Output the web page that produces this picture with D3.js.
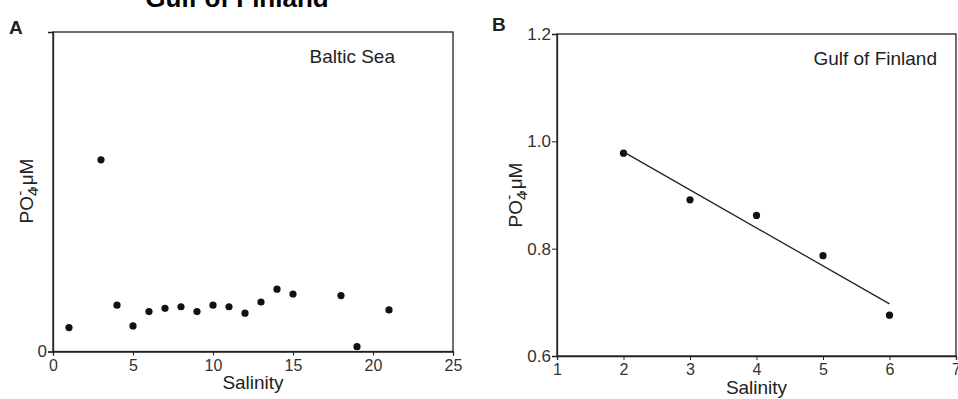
<!DOCTYPE html>
<html>
<head>
<meta charset="utf-8">
<script src="https://cdn.jsdelivr.net/npm/d3@7"></script>
<style>
  body { margin: 0; background: #fff; }
  svg { display: block; font-family: "Liberation Sans", Arial, sans-serif; }
  .axis path, .axis line { stroke: #222; }
  .axis text { fill: #333; }
</style>
</head>
<body>
<svg id="chart" width="958" height="399"></svg>
<script>
// panel A: Baltic Sea
const salinityA = [1, 3, 4, 5, 6, 7, 8, 9, 10, 11, 12, 13, 14, 15, 18, 19, 21];
const po4A = [0.15, 1.20, 0.29, 0.16, 0.25, 0.27, 0.28, 0.25, 0.29, 0.28, 0.24, 0.31, 0.39, 0.36, 0.35, 0.03, 0.26];
const xTicksA = [0, 5, 10, 15, 20, 25];
const yTicksA = [0];

// panel B: Gulf of Finland
const salinityB = [2, 3, 4, 5, 6];
const po4B = [0.978, 0.891, 0.862, 0.787, 0.676];
const xTicksB = [1, 2, 3, 4, 5, 6, 7];
const yTicksB = [0.6, 0.8, 1.0, 1.2];

const svg = d3.select('#chart');

// title, mostly cut off at the top
svg.append('text')
  .attr('x', 237).attr('y', 7)
  .attr('text-anchor', 'middle')
  .style('font-size', '26px').style('font-weight', 'bold')
  .text('Gulf of Finland');

function yLabel(x, y) {
  const t = svg.append('text')
    .attr('transform', 'translate(' + x + ',' + y + ') rotate(-90)')
    .attr('text-anchor', 'middle')
    .style('font-size', '19px')
    .attr('fill', '#222');
  t.append('tspan').text('PO');
  t.append('tspan').attr('dy', 5).style('font-size', '15px').text('4');
  t.append('tspan').attr('dx', -8).attr('dy', -13).style('font-size', '15px').text('-');
  t.append('tspan').attr('dy', 8).text(',μM');
}

function panel(opts) {
  const m = opts.box;
  const g = svg.append('g');
  const x = d3.scaleLinear().domain(opts.xDomain).range([m.left, m.right]);
  const y = d3.scaleLinear().domain(opts.yDomain).range([m.bottom, m.top]);

  // frame
  g.append('rect')
    .attr('x', m.left).attr('y', m.top)
    .attr('width', m.right - m.left).attr('height', m.bottom - m.top)
    .attr('fill', 'none').attr('stroke', '#222').attr('stroke-width', 1.3);

  g.append('g')
    .attr('class', 'axis')
    .attr('transform', 'translate(0,' + m.bottom + ')')
    .call(d3.axisBottom(x).tickValues(opts.xTicks).tickSize(4).tickPadding(4).tickFormat(d3.format('d')))
    .call(s => s.select('.domain').attr('stroke-width', 1.3))
    .call(s => s.selectAll('text').style('font-size', '16px').attr('font-family', null));

  g.append('g')
    .attr('class', 'axis')
    .attr('transform', 'translate(' + m.left + ',0)')
    .call(d3.axisLeft(y).tickValues(opts.yTicks).tickSize(5).tickPadding(1).tickFormat(opts.yFormat))
    .call(s => s.select('.domain').attr('stroke-width', 1.3))
    .call(s => s.selectAll('text').style('font-size', '17px').attr('fill', opts.yTickColor).attr('font-family', null));

  g.append('text')
    .attr('x', (m.left + m.right) / 2).attr('y', opts.xTitleY)
    .attr('text-anchor', 'middle')
    .style('font-size', '19px').attr('fill', '#222')
    .text('Salinity');

  g.append('text')
    .attr('x', opts.nameX).attr('y', m.top + 31)
    .attr('text-anchor', 'end')
    .style('font-size', '19px').attr('fill', '#222')
    .text(opts.name);

  g.append('text')
    .attr('x', opts.letterX).attr('y', opts.letterY)
    .style('font-size', '19px').style('font-weight', 'bold')
    .attr('fill', '#222')
    .text(opts.letter);

  g.selectAll('.dot')
    .data(opts.xs)
    .join('circle')
    .attr('class', 'dot')
    .attr('cx', d => x(d))
    .attr('cy', (d, i) => y(opts.ys[i]))
    .attr('r', 3.6)
    .attr('fill', '#111');

  return { g, x, y };
}

const a = panel({
  box: { left: 53, right: 453, top: 32, bottom: 351.5 },
  xDomain: [0, 25], yDomain: [0, 2],
  xTicks: xTicksA, yTicks: yTicksA, yFormat: d3.format('d'), yTickColor: '#888',
  xs: salinityA, ys: po4A,
  xTitleY: 389, name: 'Baltic Sea', nameX: 395,
  letter: 'A', letterX: 9, letterY: 34
});
yLabel(33, 191);

const b = panel({
  box: { left: 557, right: 956, top: 34, bottom: 356 },
  xDomain: [1, 7], yDomain: [0.6, 1.2],
  xTicks: xTicksB, yTicks: yTicksB, yFormat: d3.format('.1f'), yTickColor: '#333',
  xs: salinityB, ys: po4B,
  xTitleY: 394, name: 'Gulf of Finland', nameX: 937,
  letter: 'B', letterX: 492, letterY: 31
});
yLabel(522, 195);

// least squares line for panel B
const mx = d3.mean(salinityB), my = d3.mean(po4B);
const slope = d3.sum(salinityB, (d, i) => (d - mx) * (po4B[i] - my)) / d3.sum(salinityB, d => (d - mx) ** 2);
const fitEnds = d3.extent(salinityB).map(d => [d, my + slope * (d - mx)]);
b.g.append('path')
  .datum(fitEnds)
  .attr('fill', 'none')
  .attr('stroke', '#222')
  .attr('stroke-width', 1.3)
  .attr('d', d3.line().x(d => b.x(d[0])).y(d => b.y(d[1])));
</script>
</body>
</html>
